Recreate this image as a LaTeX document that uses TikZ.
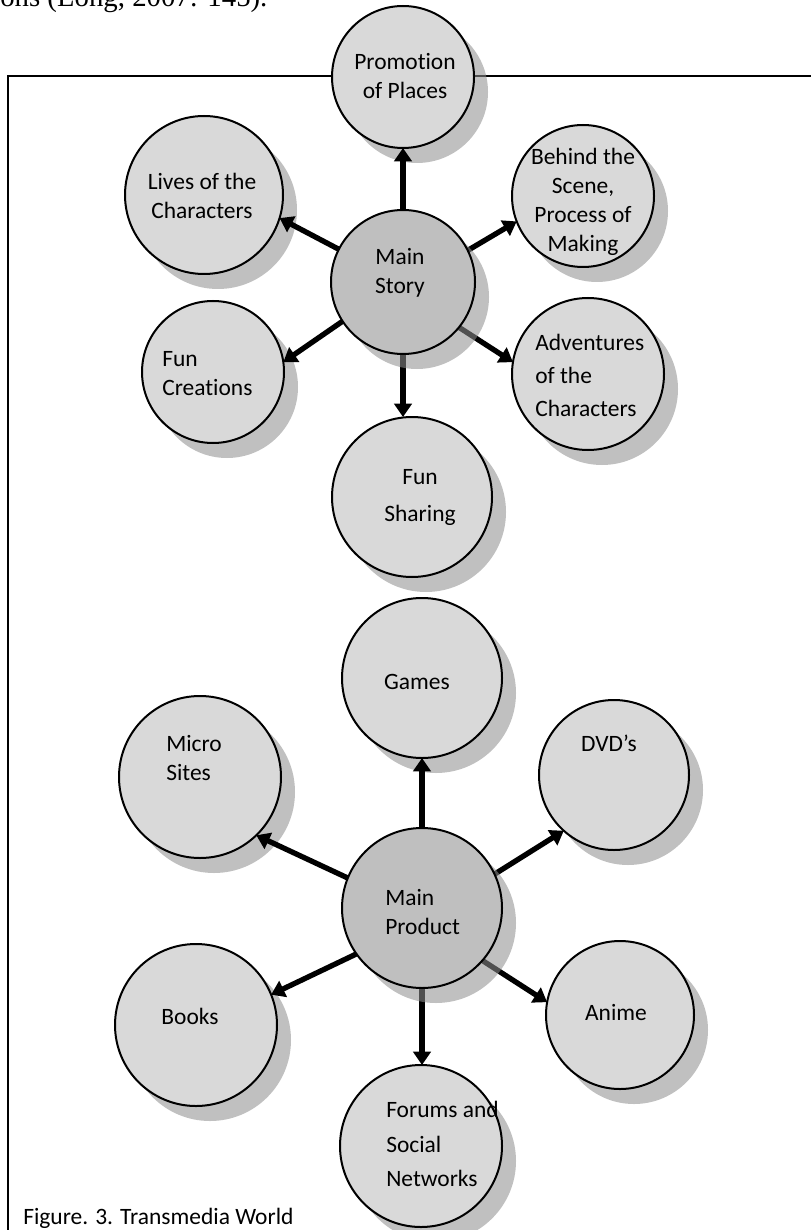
\documentclass[tikz,border=0pt]{standalone}
\usepackage{fontspec}
\setmainfont{Carlito}[Ligatures=CommonOff]
\newfontfamily\tnrfont{Liberation Serif}
\usetikzlibrary{arrows.meta,calc}
\pgfdeclarelayer{frame}
\pgfdeclarelayer{shadA}
\pgfdeclarelayer{arr}
\pgfdeclarelayer{shadB}
\pgfdeclarelayer{top}
\pgfsetlayers{frame,shadA,main,arr,shadB,top}
\definecolor{outerfill}{HTML}{D9D9D9}
\definecolor{mainfill}{HTML}{BFBFBF}
\definecolor{shadc}{RGB}{143,143,143}
\tikzset{
 bub/.style={circle, draw=black, line width=1.5pt, fill=outerfill, minimum size={#1*1.5pt}, inner sep=0pt, outer sep=0pt},
 mainbub/.style={bub=#1, fill=mainfill},
 lbl/.style={font=\fontsize{17.6pt}{21.75pt}\selectfont, inner sep=0pt, align=center},
 lbll/.style={lbl, align=left, anchor=west},
 arr/.style={line width=4pt, -{Triangle[length=10pt,width=13pt]}},
 shad/.style={fill=shadc, fill opacity=0.56},
 frameline/.style={line width=1.9pt},
}
\begin{document}
\begin{tikzpicture}[x=0.75pt,y=-0.75pt]
\useasboundingbox (0,0) rectangle (810,1230);
% frame
\begin{pgfonlayer}{frame}
\draw[frameline] (8,1245) -- (8,76) -- (825,76);
\end{pgfonlayer}
\node[font=\tnrfont\fontsize{21.6pt}{26pt}\selectfont, anchor=base west, inner sep=0pt] (toptext) at (0,7) {ons (Long, 2007: 145).};
% outer circles
\node[bub=71] (pp) at (403,77) {};
\node[bub=79] (lc) at (204,195) {};
\node[bub=71] (bs) at (583,196) {};
\node[bub=71] (fc) at (213,372) {};
\node[bub=76] (ad) at (588,374) {};
\node[bub=80] (fs) at (412,497) {};
\node[bub=80] (ga) at (422,678) {};
\node[bub=81] (mi) at (200,777) {};
\node[bub=75] (dv) at (614,775) {};
\node[bub=81] (bk) at (196,1025) {};
\node[bub=74] (an) at (620,1015) {};
\node[bub=81] (fo) at (421,1146) {};
\begin{pgfonlayer}{shadA}
\fill[shad] ($(pp)+(14,15)$) circle[radius=53.25pt];
\fill[shad] ($(lc)+(14,15)$) circle[radius=59.25pt];
\fill[shad] ($(bs)+(14,15)$) circle[radius=53.25pt];
\fill[shad] ($(fc)+(14,15)$) circle[radius=53.25pt];
\fill[shad] ($(ad)+(14,15)$) circle[radius=57pt];
\fill[shad] ($(fs)+(14,15)$) circle[radius=60pt];
\fill[shad] ($(ga)+(14,15)$) circle[radius=60pt];
\fill[shad] ($(mi)+(14,15)$) circle[radius=60.75pt];
\fill[shad] ($(dv)+(14,15)$) circle[radius=56.25pt];
\fill[shad] ($(bk)+(14,15)$) circle[radius=60.75pt];
\fill[shad] ($(an)+(14,15)$) circle[radius=55.5pt];
\fill[shad] ($(fo)+(14,15)$) circle[radius=60.75pt];
\end{pgfonlayer}
% main circles
\begin{pgfonlayer}{top}
\node[mainbub=72] (ms) at (403,282) {};
\node[mainbub=80] (mp) at (422,908) {};
\node[lbl] (t-ms) at (400,273) {Main\\Story};
\node[lbll] (t-mp) at (385,912.5) {Main\\Product};
\end{pgfonlayer}
\begin{pgfonlayer}{shadB}
\fill[shad] ($(ms)+(14,15)$) circle[radius=54pt];
\fill[shad] ($(mp)+(14,15)$) circle[radius=60pt];
\end{pgfonlayer}
% arrows
\begin{pgfonlayer}{arr}
\draw[arr] (ms.90) -- (pp.270);
\draw[arr] (ms.153) -- (lc.-17);
\draw[arr] (ms.26) -- (bs.201);
\draw[arr] (ms.213) -- (fc.8);
\draw[arr] (ms.-39) -- (ad.171);
\draw[arr] (ms.270) -- (ms.270 |- fs.north);
\draw[arr] (mp.90) -- (ga.270);
\draw[arr] (mp.158) -- (mi.-46);
\draw[arr] (mp.25) -- (dv.228);
\draw[arr] (mp.215) -- (bk.22);
\draw[arr] (mp.-41) -- (an.170);
\draw[arr] (mp.270) -- (mp.270 |- fo.north);
\end{pgfonlayer}
% labels
\node[lbl] (t-pp) at (405,76) {Promotion\\of Places};
\node[lbl] (t-lc) at (202,195.5) {Lives of the\\Characters};
\node[lbl] (t-bs) at (583,201.5) {Behind the\\Scene,\\Process of\\Making};
\node[lbll] (t-fc) at (162,373.5) {Fun\\Creations};
\node[lbll] (t-ad) at (535,375) {Adventures\\[3pt]of the\\[3pt]Characters};
\node[lbl] (t-fs) at (420,497.5) {Fun\\[6pt]Sharing};
\node[lbl] (t-ga) at (417,682) {Games};
\node[lbll] (t-mi) at (166,758) {Micro\\Sites};
\node[lbl] (t-dv) at (609,743) {DVD’s};
\node[lbl] (t-bk) at (190,1016) {Books};
\node[lbl] (t-an) at (616,1012) {Anime};
\node[lbll] (t-fo) at (386,1144) {Forums and\\[4pt]Social\\[4pt]Networks};
\node[lbl, anchor=base west] (cap) at (23,1224) {Figure. 3. Transmedia World};
\end{tikzpicture}
\end{document}
